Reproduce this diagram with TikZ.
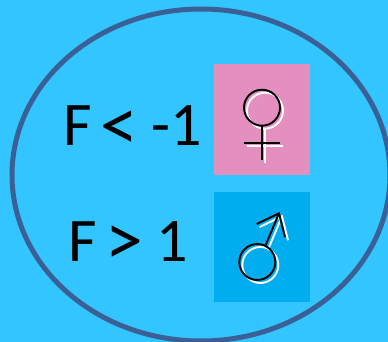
\documentclass[tikz,border=0pt]{standalone}
\usepackage{fontspec}
\usepackage{graphicx}
\setmainfont{Carlito}
\definecolor{bgblue}{HTML}{33C5FF}
\definecolor{ringblue}{HTML}{3A6095}
\definecolor{pinkbox}{HTML}{E38FC0}
\definecolor{bluebox}{HTML}{00AEEF}
\newcommand{\bigrel}[1]{\raisebox{-4.5pt}{\scalebox{1.22}{#1}}}
\tikzset{
  label text/.style={anchor=base west,inner sep=0pt,font=\fontsize{62}{62}\selectfont,text=black},
  sym/.style={line width=1.9pt,fill=none},
  box/.style={draw=none}
}
\begin{document}
\begin{tikzpicture}[x=1pt,y=-1pt]
\useasboundingbox (0,0) rectangle (388,342);
\fill[bgblue] (0,0) rectangle (388,342);
\begin{scope}
\clip (0,0) rectangle (388,342);
\draw[ringblue,line width=5pt] (201,175) ellipse [x radius=189,y radius=166];
\end{scope}
\fill[pinkbox,box] (214,64) rectangle (310,175);
\fill[bluebox,box] (214,192) rectangle (310,302);
\node[label text] (low) at (63,146) {F\kern-1.5pt\,\bigrel{<}\kern-1pt\ -1};
\node[label text] (high) at (68,261) {F\kern-1.5pt\,\bigrel{>}\kern-1pt\ 1};
% female
\begin{scope}[shift={(3,3)},white]
\draw[sym] (262,107.7) circle [radius=18];
\draw[sym] (262,125.7) -- (262,160);
\draw[sym] (244,142.7) -- (280,142.7);
\end{scope}
\draw[sym] (262,107.7) circle [radius=18];
\draw[sym] (262,125.7) -- (262,160);
\draw[sym] (244,142.7) -- (280,142.7);
% male
\begin{scope}[shift={(3,3)},white]
\draw[sym] (257.3,262) circle [radius=18];
\draw[sym] (265.7,245) -- (279,213.3);
\draw[sym] (256.7,224) -- (279,213.3) -- (285,237.3);
\end{scope}
\draw[sym] (257.3,262) circle [radius=18];
\draw[sym] (265.7,245) -- (279,213.3);
\draw[sym] (256.7,224) -- (279,213.3) -- (285,237.3);
\end{tikzpicture}
\end{document}
